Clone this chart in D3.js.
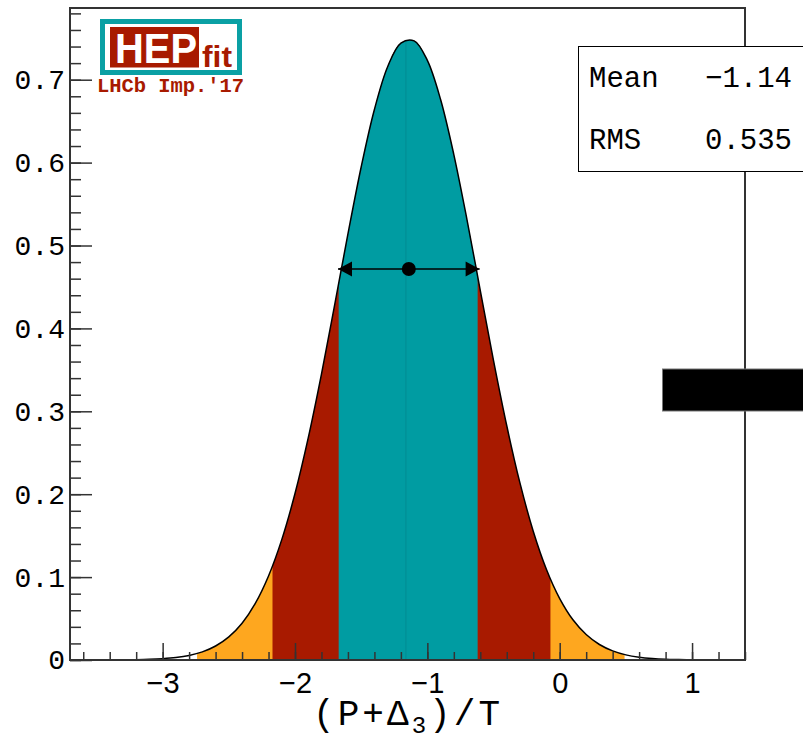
<!DOCTYPE html>
<html>
<head>
<meta charset="utf-8">
<script src="https://cdn.jsdelivr.net/npm/d3@7"></script>
<style>
  body { margin: 0; background: #fff; }
</style>
</head>
<body>
<div id="chart"></div>
<script>
// posterior density (x step 0.1)
const xGrid = [-3.7, -3.6, -3.5, -3.4, -3.3, -3.2, -3.1, -3.0, -2.9, -2.8, -2.7, -2.6, -2.5, -2.4, -2.3, -2.2, -2.1, -2.0,
  -1.9, -1.8, -1.7, -1.6, -1.5, -1.4, -1.3, -1.2, -1.1, -1.0, -0.9, -0.8, -0.7, -0.6, -0.5, -0.4, -0.3, -0.2, -0.1,
  0.0, 0.1, 0.2, 0.3, 0.4, 0.5, 0.6, 0.7, 0.8, 0.9, 1.0, 1.1, 1.2, 1.3, 1.4];
const density = [0.0000, 0.0000, 0.0000, 0.0001, 0.0002, 0.0004, 0.0008, 0.0016, 0.0030, 0.0055, 0.0098, 0.0169, 0.0279, 0.0444, 0.0683, 0.1014, 0.1452, 0.2008,
  0.2679, 0.3449, 0.4286, 0.5139, 0.5947, 0.6641, 0.7157, 0.7442, 0.7469, 0.7233, 0.6761, 0.6097, 0.5307, 0.4457, 0.3612, 0.2826, 0.2133, 0.1554, 0.1092,
  0.0741, 0.0485, 0.0307, 0.0187, 0.0110, 0.0062, 0.0034, 0.0018, 0.0009, 0.0005, 0.0002, 0.0001, 0.0000, 0.0000, 0.0000];

// probability intervals (99.7%, 95%, 68%)
const bandLo = [-2.74, -2.17, -1.67];
const bandHi = [0.49, -0.07, -0.62];
const bandColors = ["#fea71f", "#a81a00", "#009ca2"];

const statNames = ["Mean", "RMS"];
const statValues = ["\u22121.14", "0.535"];
const meanVal = -1.14;
const rmsVal = 0.535;
const arrowLevel = 0.4716;

const width = 803, height = 743;
const margin = { left: 70, right: 745, top: 8, bottom: 660 };

const svg = d3.select("#chart").append("svg")
    .attr("width", width)
    .attr("height", height)
    .style("display", "block");

const x = d3.scaleLinear().domain([-3.7, 1.4]).range([margin.left, margin.right]);
const y = d3.scaleLinear().domain([0, 0.7865]).range([margin.bottom, margin.top]);

const pts = xGrid.map((v, i) => [v, density[i]]);

const area = d3.area()
    .x(d => x(d[0]))
    .y0(y(0))
    .y1(d => y(d[1]))
    .curve(d3.curveCatmullRom.alpha(0.5));

const line = d3.line()
    .x(d => x(d[0]))
    .y(d => y(d[1]))
    .curve(d3.curveCatmullRom.alpha(0.5));

const defs = svg.append("defs");

// filled intervals, widest first
bandLo.forEach((lo, i) => {
    defs.append("clipPath").attr("id", "band" + i)
        .append("rect")
        .attr("x", x(lo))
        .attr("y", margin.top)
        .attr("width", x(bandHi[i]) - x(lo))
        .attr("height", margin.bottom - margin.top);
    svg.append("path")
        .datum(pts)
        .attr("d", area)
        .attr("fill", bandColors[i])
        .attr("clip-path", `url(#band${i})`);
});

// faint seam in the middle of the 68% region
svg.append("line")
    .attr("x1", x(-1.162)).attr("x2", x(-1.162))
    .attr("y1", y(0)).attr("y2", y(0.747))
    .attr("stroke", "#00898e")
    .attr("stroke-width", 0.8);

svg.append("path")
    .datum(pts)
    .attr("d", line)
    .attr("fill", "none")
    .attr("stroke", "#000")
    .attr("stroke-width", 1.5);

// minor ticks
svg.append("g")
    .attr("transform", `translate(${margin.left},0)`)
    .call(d3.axisLeft(y).ticks(40).tickSize(-11).tickFormat(""))
    .call(g => g.select(".domain").remove())
    .call(g => g.selectAll("line").attr("stroke", "#333").attr("stroke-width", 1.5));

svg.append("g")
    .attr("transform", `translate(0,${margin.bottom})`)
    .call(d3.axisBottom(x).ticks(25).tickSize(-8).tickFormat(""))
    .call(g => g.select(".domain").remove())
    .call(g => g.selectAll("line").attr("stroke", "#333").attr("stroke-width", 1.5));

// major ticks + labels
svg.append("g")
    .attr("transform", `translate(${margin.left},0)`)
    .call(d3.axisLeft(y).ticks(8).tickSize(-22).tickPadding(5)
        .tickFormat(d => d === 0 ? "0" : d3.format(".1f")(d)))
    .call(g => g.select(".domain").remove())
    .call(g => g.selectAll("line").attr("stroke", "#333").attr("stroke-width", 1.5))
    .call(g => g.selectAll("text")
        .attr("font-family", "'Liberation Mono', monospace")
        .attr("font-size", 28)
        .attr("fill", "#000"));

svg.append("g")
    .attr("transform", `translate(0,${margin.bottom})`)
    .call(d3.axisBottom(x).ticks(5).tickSize(-17).tickPadding(12))
    .call(g => g.select(".domain").remove())
    .call(g => g.selectAll("line").attr("stroke", "#333").attr("stroke-width", 1.5))
    .call(g => g.selectAll("text")
        .attr("font-family", "'Liberation Sans', Arial, sans-serif")
        .attr("font-size", 29)
        .attr("fill", "#000"));

// frame
svg.append("rect")
    .attr("x", margin.left).attr("y", margin.top)
    .attr("width", margin.right - margin.left).attr("height", margin.bottom - margin.top)
    .attr("fill", "none")
    .attr("stroke", "#333")
    .attr("stroke-width", 2);

// mean +/- rms arrow
const ay = y(arrowLevel);
const x1 = x(meanVal - rmsVal), x2 = x(meanVal + rmsVal);
svg.append("line")
    .attr("x1", x1).attr("x2", x2)
    .attr("y1", ay).attr("y2", ay)
    .attr("stroke", "#000").attr("stroke-width", 1.5);
svg.append("path")
    .attr("d", `M${x1},${ay}L${x1 + 14},${ay - 7.5}L${x1 + 14},${ay + 7.5}Z`)
    .attr("fill", "#000");
svg.append("path")
    .attr("d", `M${x2},${ay}L${x2 - 14},${ay - 7.5}L${x2 - 14},${ay + 7.5}Z`)
    .attr("fill", "#000");
svg.append("circle")
    .attr("cx", x(meanVal)).attr("cy", ay).attr("r", 7)
    .attr("fill", "#000");

// stats box
svg.append("rect")
    .attr("x", 578.5).attr("y", 46.5)
    .attr("width", 240).attr("height", 125)
    .attr("fill", "#fff")
    .attr("stroke", "#000")
    .attr("stroke-width", 1);

statNames.forEach((name, i) => {
    svg.append("text")
        .attr("x", 589).attr("y", 87 + i * 61.5)
        .attr("font-family", "'Liberation Mono', monospace")
        .attr("font-size", 29)
        .text(name);
    svg.append("text")
        .attr("x", 792).attr("y", 87 + i * 61.5)
        .attr("text-anchor", "end")
        .attr("font-family", "'Liberation Mono', monospace")
        .attr("font-size", 29)
        .text(statValues[i]);
});

// black box on the right edge
svg.append("rect")
    .attr("x", 662.5).attr("y", 369)
    .attr("width", 160).attr("height", 42)
    .attr("fill", "#000")
    .attr("stroke", "#777")
    .attr("stroke-width", 1);

// x title
const title = svg.append("text")
    .attr("x", 313).attr("y", 725)
    .attr("font-family", "'Liberation Mono', monospace")
    .attr("font-size", 36)
    .attr("textLength", 187)
    .attr("lengthAdjust", "spacing");
title.append("tspan").text("(P+\u0394");
title.append("tspan").attr("dy", 8).attr("font-size", 24).text("3");
title.append("tspan").attr("dy", -8).text(")/T");

// HEPfit logo
const logo = svg.append("g");
logo.append("rect")
    .attr("x", 102.5).attr("y", 21.5)
    .attr("width", 137).attr("height", 51)
    .attr("fill", "#fff")
    .attr("stroke", "#0aa0a4")
    .attr("stroke-width", 5);
logo.append("rect")
    .attr("x", 110).attr("y", 27)
    .attr("width", 89).attr("height", 40.5)
    .attr("fill", "#a81a00");
logo.append("text")
    .attr("x", 115).attr("y", 63)
    .attr("font-family", "'Liberation Sans', Arial, sans-serif")
    .attr("font-weight", "bold")
    .attr("font-size", 43)
    .attr("textLength", 82)
    .attr("lengthAdjust", "spacingAndGlyphs")
    .attr("fill", "#fff")
    .text("HEP");
logo.append("text")
    .attr("x", 202).attr("y", 66.5)
    .attr("font-family", "'Liberation Sans', Arial, sans-serif")
    .attr("font-weight", "bold")
    .attr("font-size", 30)
    .attr("textLength", 30)
    .attr("lengthAdjust", "spacingAndGlyphs")
    .attr("fill", "#a81a00")
    .text("fit");
logo.append("text")
    .attr("x", 97).attr("y", 92)
    .attr("font-family", "'Liberation Mono', monospace")
    .attr("font-weight", "bold")
    .attr("font-size", 20.5)
    .attr("textLength", 147)
    .attr("fill", "#a81a00")
    .text("LHCb Imp.'17");
</script>
</body>
</html>
